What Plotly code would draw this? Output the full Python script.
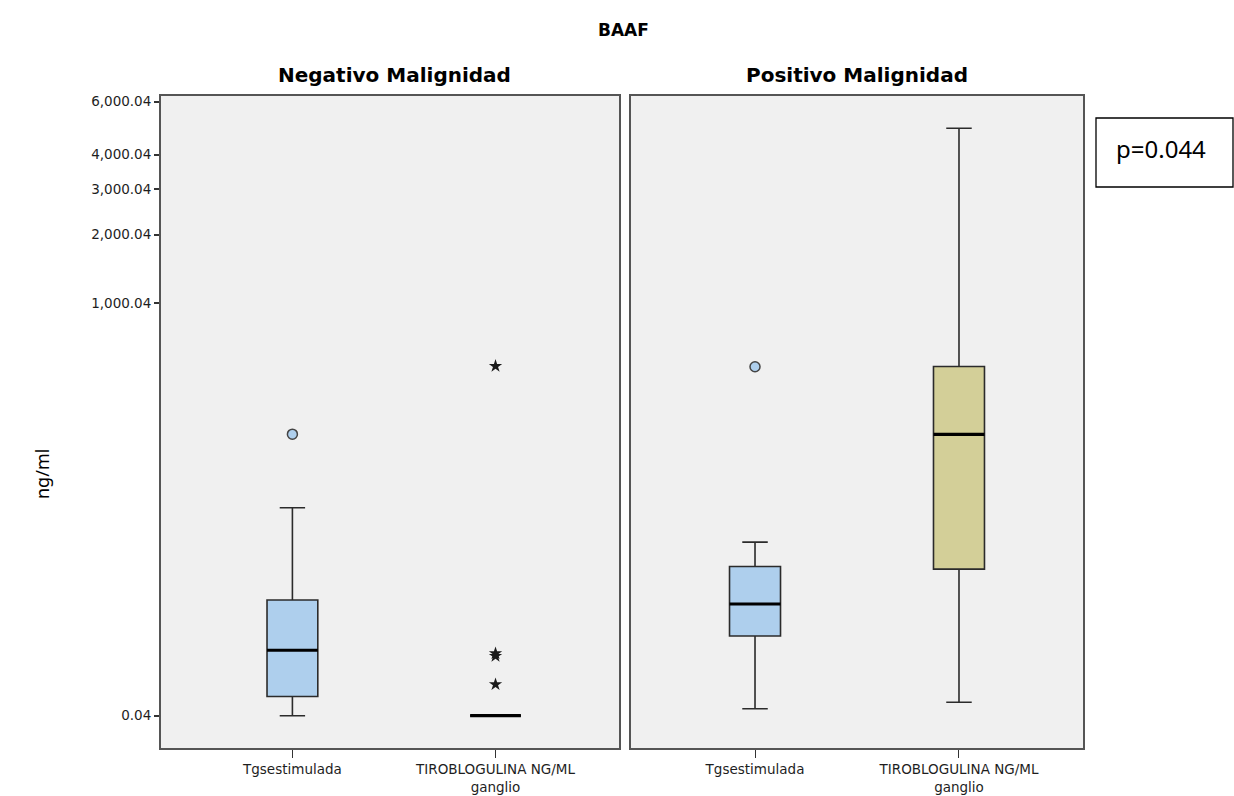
import numpy as np
import plotly.graph_objects as go

# ---- data (ng/ml) ----
categories = ["Tgsestimulada", "TIROBLOGULINA NG/ML<br>ganglio"]
panels = ["Negativo Malignidad", "Positivo Malignidad"]

neg_lower = [0.04, 0.04]
neg_q1 = [0.041, 0.04]
neg_median = [0.29, 0.04]
neg_q3 = [3.3, 0.04]
neg_upper = [45.8, 0.04]
neg_outliers = [[179.0], []]
neg_extremes = [[], [475.0, 0.24, 0.205, 0.049]]

pos_lower = [0.04001, 0.0402]
pos_q1 = [0.65, 9.5]
pos_median = [2.82, 178.7]
pos_q3 = [10.3, 472.0]
pos_upper = [20.3, 4918.0]
pos_outliers = [[471.0], []]
pos_extremes = [[], []]

tick_values = [0.04, 1000.04, 2000.04, 3000.04, 4000.04, 6000.04]
tick_labels = ["0.04", "1,000.04", "2,000.04", "3,000.04", "4,000.04", "6,000.04"]

blue_fill = "#aecfed"
olive_fill = "#d3cf98"
panel_fills = [[blue_fill, blue_fill], [blue_fill, olive_fill]]

# power scale anchored at the axis origin 0.04
ORIGIN = 0.04
EXPONENT = 0.222


def scale(v):
    t = np.asarray(v, dtype=float) - ORIGIN
    return np.sign(t) * np.abs(t) ** EXPONENT


fig = go.Figure()

panel_data = [
    (neg_lower, neg_q1, neg_median, neg_q3, neg_upper, neg_outliers, neg_extremes),
    (pos_lower, pos_q1, pos_median, pos_q3, pos_upper, pos_outliers, pos_extremes),
]

BOX_W = 0.25
for p, (lo, q1, med, q3, up, outs, ext) in enumerate(panel_data):
    xa = "x" if p == 0 else "x2"
    ya = "y" if p == 0 else "y2"
    for i in range(len(categories)):
        fig.add_trace(go.Box(
            x=[i], q1=[float(scale(q1[i]))], median=[float(scale(med[i]))],
            q3=[float(scale(q3[i]))], lowerfence=[float(scale(lo[i]))],
            upperfence=[float(scale(up[i]))],
            width=BOX_W, whiskerwidth=0.5, fillcolor=panel_fills[p][i],
            line=dict(color="#2b2b2b", width=1.6),
            boxpoints=False, xaxis=xa, yaxis=ya, showlegend=False,
            hoverinfo="skip",
        ))
        # thick median bar
        fig.add_trace(go.Scatter(
            x=[i - BOX_W / 2, i + BOX_W / 2],
            y=[float(scale(med[i]))] * 2,
            mode="lines", line=dict(color="black", width=3.2),
            xaxis=xa, yaxis=ya, showlegend=False, hoverinfo="skip",
        ))
        if outs[i]:
            fig.add_trace(go.Scatter(
                x=[i] * len(outs[i]), y=scale(outs[i]), mode="markers",
                marker=dict(symbol="circle", size=10, color=blue_fill,
                            line=dict(color="#444444", width=1.5)),
                xaxis=xa, yaxis=ya, showlegend=False, hoverinfo="skip",
            ))
        if ext[i]:
            fig.add_trace(go.Scatter(
                x=[i] * len(ext[i]), y=scale(ext[i]), mode="markers",
                marker=dict(symbol="star", size=10, color="#1a1a1a",
                            line=dict(color="#1a1a1a", width=0)),
                xaxis=xa, yaxis=ya, showlegend=False, hoverinfo="skip",
            ))

W, H = 1234, 796
px_x = lambda v: v / W
px_y = lambda v: 1 - v / H

y_range = [-0.363, 6.963]
ytick_font = dict(family="DejaVu Sans, Arial, sans-serif", size=13.5, color="#1e1e1e")
xtick_font = dict(family="DejaVu Sans, Arial, sans-serif", size=13.5, color="#1e1e1e")

xaxis_common = dict(
    tickmode="array", tickvals=[0, 1], ticktext=categories,
    ticks="outside", ticklen=8, tickcolor="#333333", tickwidth=1,
    showline=True, mirror=True, linecolor="#555555", linewidth=2,
    showgrid=False, zeroline=False, tickfont=xtick_font, automargin=False,
)
yaxis_common = dict(
    range=y_range, showline=True, mirror=True, linecolor="#555555", linewidth=2,
    showgrid=False, zeroline=False, automargin=False,
)

fig.update_layout(
    width=W, height=H,
    margin=dict(l=0, r=0, t=0, b=0, autoexpand=False),
    paper_bgcolor="white", plot_bgcolor="#f0f0f0",
    xaxis=dict(domain=[px_x(161), px_x(619)], range=[-0.647, 1.608], anchor="y",
               **xaxis_common),
    xaxis2=dict(domain=[px_x(631), px_x(1083)], range=[-0.608, 1.608], anchor="y2",
                **xaxis_common),
    yaxis=dict(domain=[px_y(748), px_y(96)], anchor="x",
               tickmode="array", tickvals=list(scale(tick_values)), ticktext=tick_labels,
               ticks="outside", ticklen=5, tickcolor="#333333", tickwidth=2,
               tickfont=ytick_font, **yaxis_common),
    yaxis2=dict(domain=[px_y(748), px_y(96)], anchor="x2", showticklabels=False,
                ticks="", **yaxis_common),
)

title_font = dict(family="DejaVu Sans, Arial, sans-serif", size=20, color="black")


def label(text, x, y, font, **kw):
    fig.add_annotation(text=text, x=px_x(x), y=px_y(y), xref="paper", yref="paper",
                       xanchor=kw.pop("xanchor", "center"), yanchor="middle",
                       showarrow=False, font=font, **kw)


label("<b>BAAF</b>", 623, 30,
      dict(family="DejaVu Sans, Arial, sans-serif", size=17, color="black"))
label("<b>%s</b>" % panels[0], 394, 75, title_font)
label("<b>%s</b>" % panels[1], 857, 75, title_font)
label("ng/ml", 42, 474,
      dict(family="Noto Sans, Open Sans, sans-serif", size=18, color="black"),
      textangle=-90)

# p-value box
fig.add_shape(type="rect", xref="paper", yref="paper",
              x0=px_x(1096), x1=px_x(1233), y0=px_y(187), y1=px_y(118),
              line=dict(color="black", width=1.3), fillcolor="white")
label("p=0.044", 1114, 148,
      dict(family="Noto Sans, Open Sans, sans-serif", size=24, color="black"),
      xanchor="left")

fig.write_html("out.html")
